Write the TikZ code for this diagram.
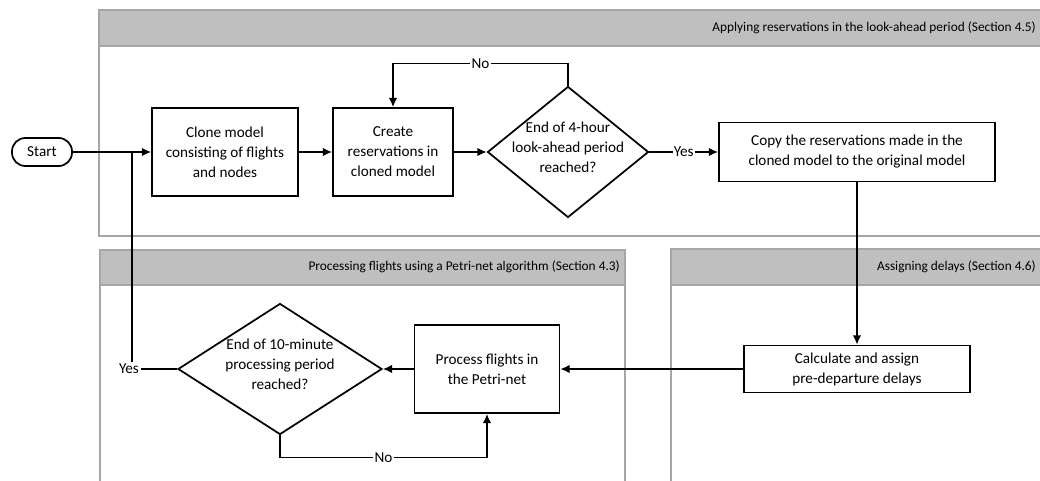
\documentclass[tikz,border=0pt]{standalone}
\usepackage{fontspec}
\setmainfont{Carlito}
\usetikzlibrary{arrows.meta,shapes.geometric,positioning}
\definecolor{lanegray}{HTML}{A6A6A6}
\definecolor{headgray}{HTML}{BFBFBF}
\tikzstyle{block} = [rectangle, draw, line width=1.3pt, fill=white, align=center,
    inner sep=0pt, font=\fontsize{11.4}{15}\selectfont]
\tikzstyle{terminal} = [block, rounded corners=10pt, minimum width=45pt, minimum height=21pt]
\tikzstyle{decision} = [diamond, draw, line width=1.3pt, fill=white, inner sep=0pt,
    font=\fontsize{11.4}{15}\selectfont]
\tikzstyle{line} = [draw, line width=1.3pt, -{Latex[length=7pt,width=6.5pt]}]
\tikzstyle{lbl} = [fill=white, inner sep=1pt, font=\fontsize{11.4}{15}\selectfont]
\tikzstyle{lane} = [draw=lanegray, line width=1pt, fill=white]
\tikzstyle{lanehead} = [draw=lanegray, line width=1pt, fill=headgray]
\tikzstyle{headtext} = [anchor=east, inner sep=0pt, font=\fontsize{10}{12}\selectfont]
\newcommand{\dtext}[1]{\makebox[0pt]{\smash{\begin{tabular}[c]{@{}c@{}}#1\end{tabular}}}}

\begin{document}
\begin{tikzpicture}[x=0.75pt, y=-0.75pt]
    \useasboundingbox (0,0) rectangle (1040,481);
    % Swimlanes
    \draw[lane] (99,46) rectangle (1045,236);
    \draw[lanehead] (99,10) rectangle (1045,46);
    \node[headtext] (headres) at (1036,28) {Applying reservations in the look-ahead period (Section 4.5)};
    \draw[lane] (100,285) rectangle (625,490);
    \draw[lanehead] (100,250) rectangle (625,285);
    \node[headtext] (headpetri) at (620,267) {Processing flights using a Petri-net algorithm (Section 4.3)};
    \draw[lane] (671,285) rectangle (1045,490);
    \draw[lanehead] (671,249) rectangle (1045,285);
    \node[headtext] (headdelay) at (1036,267) {Assigning delays (Section 4.6)};
    % Place nodes
    \node [terminal] (start) at (42,152) {Start};
    \node [block, minimum width=109.5pt, minimum height=66pt] (clone) at (225,152)
        {Clone model\\consisting of flights\\and nodes};
    \node [block, minimum width=90pt, minimum height=66pt] (create) at (393,152)
        {Create\\reservations in\\cloned model};
    \node [decision, minimum width=120.75pt, minimum height=98.25pt] (lookahead) at (568,152)
        {\dtext{End of 4-hour\\look-ahead period\\reached?}};
    \node [block, minimum width=207pt, minimum height=44.25pt] (copy) at (857,152)
        {Copy the reservations made in the\\cloned model to the original model};
    \node [block, minimum width=169.5pt, minimum height=35.25pt] (calc) at (857,369)
        {Calculate and assign\\pre-departure delays};
    \node [block, minimum width=108.75pt, minimum height=66pt] (process) at (487,369)
        {Process flights in\\the Petri-net};
    \node [decision, minimum width=153pt, minimum height=98.25pt] (tenmin) at (280,369)
        {\dtext{End of 10-minute\\processing period\\reached?}};
    \node [lbl] (yes) at (129,369) {Yes};
    % Draw edges
    \path [line] (start) -- (clone);
    \path [line] (clone) -- (create);
    \path [line] (create) -- (lookahead);
    \path [line] (lookahead) -- node[lbl] {Yes} (copy);
    \path [line] (lookahead.north) -- ++(0,-22) -| node[lbl, pos=0.25] {No} (create.north);
    \path [line] (copy) -- (calc);
    \path [line] (calc) -- (process);
    \path [line] (process) -- (tenmin);
    \path [line] (tenmin.south) -- ++(0,22) -| node[lbl, pos=0.25] {No} (process.south);
    \draw [line width=1.3pt] (tenmin.west) -- (yes.east);
    \draw [line width=1.3pt] ([xshift=2.5pt]yes.north) -- ([xshift=2.5pt]yes.north |- start);
\end{tikzpicture}
\end{document}
